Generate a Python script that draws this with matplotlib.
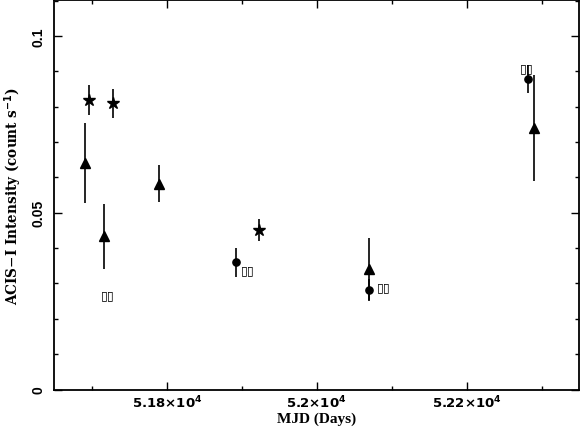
import matplotlib
matplotlib.use("Agg")
import matplotlib.pyplot as plt
from matplotlib.ticker import MultipleLocator, FixedLocator, FixedFormatter

# ---- data ----
tri_mjd = [51691, 51717, 51790, 52070, 52290]
tri_rate = [0.0641, 0.0433, 0.0582, 0.0342, 0.0739]
tri_err = [0.0112, 0.0092, 0.0052, 0.0088, 0.0150]

star_mjd = [51697, 51728, 51923]
star_rate = [0.0819, 0.0810, 0.0450]
star_err = [0.0042, 0.0041, 0.0031]

circ_mjd = [51892, 52070, 52282]
circ_rate = [0.0360, 0.0281, 0.0879]
circ_err = [0.0041, 0.0032, 0.0039]

xtick_vals = [51800, 52000, 52200]
xtick_labels = [r"$\mathbf{5.18{\times}10^4}$", r"$\mathbf{5.2{\times}10^4}$", r"$\mathbf{5.22{\times}10^4}$"]
ytick_vals = [0, 0.05, 0.1]
ytick_labels = ["0", "0.05", "0.1"]

note_text = "\u25AF\u25AF"
# (series, index, dx_px, dy_px)
notes = [("tri", 1, 3, -58), ("circ", 0, 12, -7), ("circ", 1, 15, 3), ("circ", 2, -1, 11)]

plt.rcParams["mathtext.fontset"] = "dejavusans"

fig = plt.figure(figsize=(5.81, 4.31), dpi=100)
ax = fig.add_axes([53.5 / 581, 1 - 390.5 / 431, (579 - 53.5) / 581, (390.5 - 1) / 431])

ekw = dict(fmt="none", ecolor="black", elinewidth=1.2, capsize=0)
ax.errorbar(tri_mjd, tri_rate, yerr=tri_err, **ekw)
ax.errorbar(star_mjd, star_rate, yerr=star_err, **ekw)
ax.errorbar(circ_mjd, circ_rate, yerr=circ_err, **ekw)
ax.plot(tri_mjd, tri_rate, "^", color="black", ms=7, ls="none")
ax.plot(star_mjd, star_rate, "*", color="black", ms=9, ls="none")
ax.plot(circ_mjd, circ_rate, "o", color="black", ms=5.2, ls="none")

series = {"tri": (tri_mjd, tri_rate), "circ": (circ_mjd, circ_rate), "star": (star_mjd, star_rate)}
for s, i, dx, dy in notes:
    xs, ys = series[s]
    ax.annotate(note_text, (xs[i], ys[i]), xytext=(dx * 0.72, dy * 0.72),
                textcoords="offset points", ha="center", va="center", fontsize=9,
                family="DejaVu Sans")

ax.set_xlim(51649, 52350)
ax.set_ylim(0, 0.1102)

ax.xaxis.set_major_locator(FixedLocator(xtick_vals))
ax.xaxis.set_major_formatter(FixedFormatter(xtick_labels))
ax.xaxis.set_minor_locator(MultipleLocator(100))
ax.yaxis.set_major_locator(FixedLocator(ytick_vals))
ax.yaxis.set_major_formatter(FixedFormatter(ytick_labels))
ax.yaxis.set_minor_locator(MultipleLocator(0.01))

ax.tick_params(which="both", direction="in", top=True, right=True, width=1.0, color="black")
ax.tick_params(which="major", length=6)
ax.tick_params(which="minor", length=3)
ax.tick_params(axis="x", which="major", labelsize=9.5, pad=3)
ax.tick_params(axis="y", which="major", labelsize=10, pad=6)
for lab in ax.get_yticklabels():
    lab.set_rotation(90)
    lab.set_va("center")
    lab.set_fontweight("bold")
    lab.set_family("Liberation Sans")

for sp in ax.spines.values():
    sp.set_linewidth(1.3)

ax.set_xlabel("MJD (Days)", family="Liberation Serif", fontweight="bold", fontsize=11, labelpad=1)
ax.set_ylabel(r"ACIS$-$I Intensity (count s$^{\mathbf{-1}}$)", family="DejaVu Serif",
              fontweight="bold", fontsize=9.8, labelpad=5)

fig.savefig("out.png", dpi=100)
